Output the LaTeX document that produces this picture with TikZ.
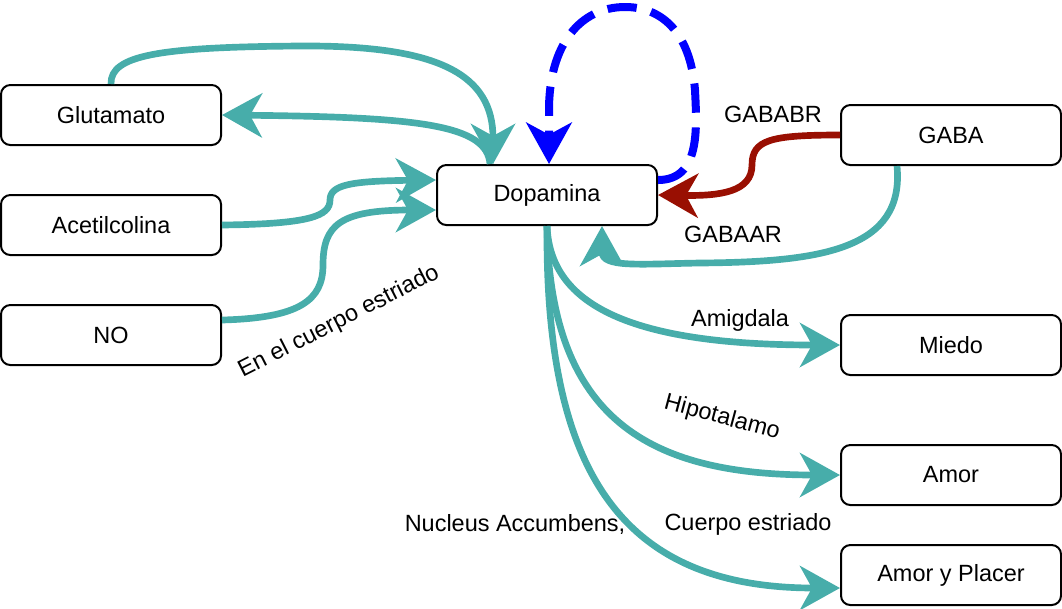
\documentclass[tikz,border=0pt]{standalone}
\usepackage{fontspec}
\setmainfont{Liberation Sans}
\usetikzlibrary{arrows.meta, calc}
\definecolor{dteal}{HTML}{47ADAA}
\definecolor{dred}{HTML}{990F02}
\definecolor{dblue}{HTML}{0000FF}
\tikzset{caja/.style={draw=black, line width=1.5pt, rounded corners=7pt, minimum width=165pt, minimum height=45pt, inner sep=0pt},
  via/.style={line width=5pt, line cap=butt, -{Stealth[length=30pt, width=33pt, inset=9pt]}}}

\begin{document}
\begin{tikzpicture}[x=0.75pt, y=-0.75pt, font=\fontsize{17.6}{21}\selectfont]
  \useasboundingbox (0,0) rectangle (1062,608);
  \foreach \n/\x/\y/\t in {glutamato/111/115/Glutamato, acetil/111/225/Acetilcolina, no/111/335/NO,
     dopamina/547/195/Dopamina, gaba/951/135/GABA, miedo/951/345/Miedo, amor/951/475/Amor, placer/951/575/Amor y Placer}
     \node[caja] (\n) at (\x,\y) {\t};
  % entradas
  \draw[via,dteal] (glutamato.north) .. controls (110,55) and (160,47) .. (300,46) .. controls (440,45) and (493,75) .. ($(dopamina.north)+(-54,0)$);
  \draw[via,dteal] ($(dopamina.north)+(-57,0)$) .. controls (487,125) and (420,117) .. (glutamato.east);
  \draw[via,dteal] (acetil.east) .. controls (310,224) and (330,216) .. (330,200) .. controls (330,185) and (350,181) .. ($(dopamina.west)+(0,-15)$);
  \draw[via,dteal] ($(no.east)+(0,-15)$) .. controls (300,318) and (323,300) .. (323,265) .. controls (323,225) and (340,210) .. ($(dopamina.west)+(0,15)$);
  \node[rotate=27] (estriado) at (339,322) {En el cuerpo estriado};
  % bucle
  \draw[dblue, line width=6pt, dash pattern=on 22pt off 11pt, -{Stealth[length=31pt, width=34pt, inset=9pt]}]
     ($(dopamina.east)+(0,-15)$) .. controls (700,180) and (697,130) .. (695,90) .. controls (690,30) and (660,7) .. (625,7)
     .. controls (580,7) and (549,45) .. (549,110) -- ($(dopamina.north)+(2,0)$);
  % GABA
  \draw[via,dred] (gaba.west) .. controls (770,135) and (752,140) .. (752,165) .. controls (752,192) and (720,196) .. (dopamina.east);
  \node (gababr) at (773,114) {GABABR};
  \draw[via,dteal] ($(gaba.south)+(-54,0)$) .. controls (905,250) and (820,262) .. (700,263) .. controls (640,264) and (602,268) .. ($(dopamina.south)+(55,0)$);
  \node (gabaar) at (733,234) {GABAAR};
  % salidas
  \draw[via,dteal] (dopamina.south) .. controls (550,300) and (620,345) .. (miedo.west);
  \node (amigdala) at (740,320) {Amigdala};
  \draw[via,dteal] (dopamina.south) .. controls (550,420) and (650,475) .. (amor.west);
  \node[rotate=-15] (hipotalamo) at (722,418) {Hipotalamo};
  \draw[via,dteal] (dopamina.south) .. controls (545,470) and (620,588) .. ($(placer.west)+(0,13)$);
  \node (accumbens) at (515,524) {Nucleus Accumbens,};
  \node (cuerpo) at (748,524) {Cuerpo estriado};
\end{tikzpicture}
\end{document}
